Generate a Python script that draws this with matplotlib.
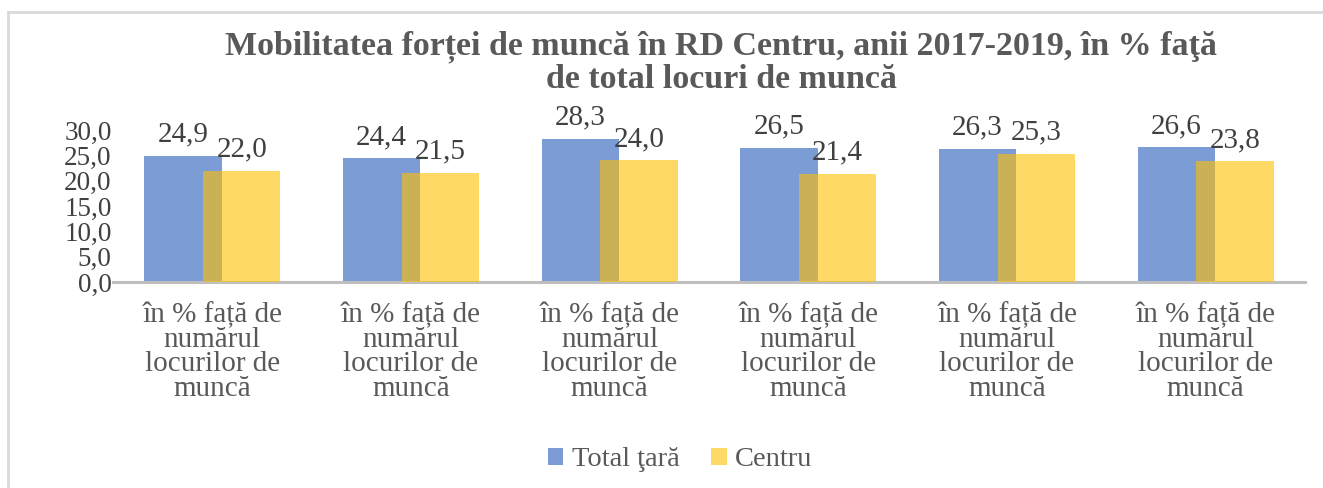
import numpy as np
import matplotlib.pyplot as plt
from matplotlib.patches import Patch

# Data
categories = ["în % față de\nnumărul\nlocurilor de\nmuncă"] * 6
total_tara = [24.9, 24.4, 28.3, 26.5, 26.3, 26.6]
centru = [22.0, 21.5, 24.0, 21.4, 25.3, 23.8]
series_names = ["Total ţară", "Centru"]

plt.rcParams['font.family'] = ['Liberation Serif', 'DejaVu Serif']

blue = '#4472C4'
yellow = '#FFC000'
text_dark = '#404040'
text_gray = '#595959'

fig = plt.figure(figsize=(13.23, 4.88), dpi=100)
ax = fig.add_axes([0.0854, 0.422, 0.901, 0.3115])

x = np.arange(len(categories))
w = 0.39
off = 0.148
b1 = ax.bar(x - off, total_tara, w, color=blue, alpha=0.7, zorder=2)
b2 = ax.bar(x + off, centru, w, color=yellow, alpha=0.6, zorder=3)

# Data labels
for bars, vals in ((b1, total_tara), (b2, centru)):
    for r, v in zip(bars, vals):
        ax.annotate(f"{v:.1f}".replace('.', ','),
                    (r.get_x() + r.get_width() / 2, v),
                    xytext=(0, 6), textcoords='offset points',
                    ha='center', va='bottom', fontsize=21, color=text_dark)

ax.set_xlim(-0.5, len(categories) - 0.5)
ax.set_ylim(0, 30)
ax.set_yticks(np.arange(0, 31, 5))
ax.set_yticklabels([f"{t:.1f}".replace('.', ',') for t in np.arange(0, 31, 5)],
                   fontsize=19.5, color=text_dark)
ax.set_xticks(x)
ax.set_xticklabels(categories, fontsize=21, color=text_gray, linespacing=0.92, va='top')
ax.tick_params(axis='both', length=0)
ax.tick_params(axis='y', pad=1)
ax.tick_params(axis='x', pad=14)

for s in ['top', 'right', 'left']:
    ax.spines[s].set_visible(False)
ax.spines['bottom'].set_color('#BFBFBF')
ax.spines['bottom'].set_linewidth(2.2)

# Title
fig.text(0.545, 1 - 47 / 488, "Mobilitatea forței de muncă în RD Centru, anii 2017-2019, în % faţă",
         ha='center', va='center', fontsize=24.5, fontweight='bold', color=text_gray)
fig.text(0.545, 1 - 79 / 488, "de total locuri de muncă",
         ha='center', va='center', fontsize=24.5, fontweight='bold', color=text_gray)

# Legend
handles = [Patch(facecolor=blue, alpha=0.7), Patch(facecolor=yellow, alpha=0.6)]
fig.legend(handles, series_names, loc='center', bbox_to_anchor=(680 / 1323, 1 - 460 / 488),
           ncol=2, frameon=False, fontsize=20.5, handlelength=0.55, handleheight=0.55,
           handletextpad=0.3, columnspacing=1.1, labelcolor=text_gray)

# Chart frame
fig.add_artist(plt.Line2D([8 / 1323, 1.0], [1 - 12 / 488] * 2, color='#D9D9D9', lw=2))
fig.add_artist(plt.Line2D([8 / 1323] * 2, [0, 1 - 12 / 488], color='#D9D9D9', lw=2))

fig.savefig('out.png', dpi=100, facecolor='white')
